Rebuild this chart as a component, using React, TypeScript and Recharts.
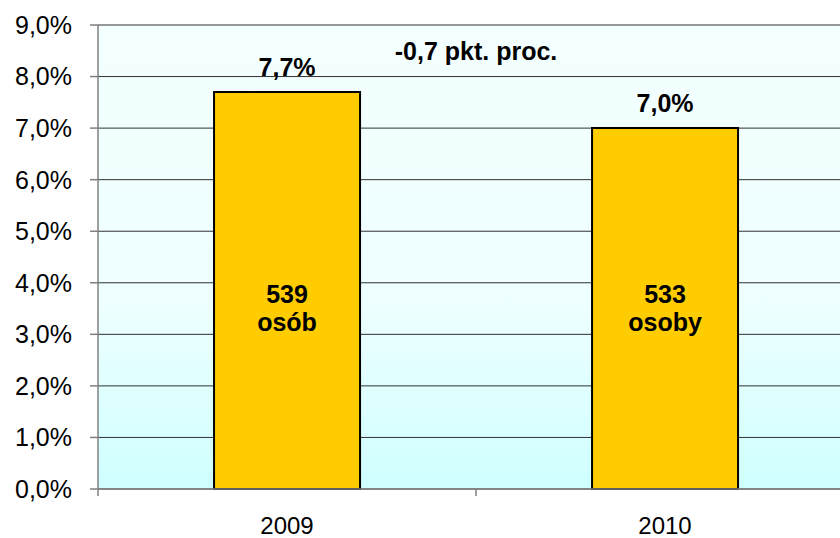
import { BarChart, Bar, XAxis, YAxis, CartesianGrid, LabelList, ReferenceLine } from 'recharts';

const YEARS = ['2009', '2010'];
const RATE = [7.7, 7.0];
const PEOPLE = [539, 533];
const PEOPLE_WORD = ['osób', 'osoby'];
const Y_TICKS = [0, 1, 2, 3, 4, 5, 6, 7, 8, 9];

const FONT = "Arial, 'Liberation Sans', sans-serif";
const X_TICK_SIZE = 7;
const X_TICK_MARGIN = 21;

const data = YEARS.map((year, i) => ({
  year,
  rate: RATE[i],
  people: PEOPLE[i],
  word: PEOPLE_WORD[i],
}));

const pct = (v: number) => v.toFixed(1).replace('.', ',') + '%';
const diff = RATE[1] - RATE[0];
const diffLabel = (diff > 0 ? '+' : '') + diff.toFixed(1).replace('.', ',') + ' pkt. proc.';

// tick label at category centre, tick mark on the category boundary
const XTick = (props: any) => {
  const { x, y, payload } = props;
  const off = payload && typeof payload.offset === 'number' ? payload.offset : 0;
  const axisY = y - X_TICK_SIZE - X_TICK_MARGIN;
  return (
    <g>
      <line x1={x - off} x2={x - off} y1={axisY} y2={axisY + X_TICK_SIZE} stroke="#808080" strokeWidth={1.5} />
      <text x={x} y={y} dy="0.71em" textAnchor="middle" fill="#000" fontSize={24} fontFamily={FONT}>
        {payload.value}
      </text>
    </g>
  );
};

const PeopleLabel = (props: any) => {
  const vb = props.viewBox || props;
  const { x, y, width, height } = vb;
  const { index } = props;
  const cx = x + width / 2;
  const bottom = y + height;
  return (
    <text textAnchor="middle" fill="#000" fontSize={25} fontWeight="bold" fontFamily={FONT}>
      <tspan x={cx} y={bottom - 186}>{PEOPLE[index]}</tspan>
      <tspan x={cx} y={bottom - 158}>{PEOPLE_WORD[index]}</tspan>
    </text>
  );
};

export default function App() {
  return (
    <div style={{ position: 'absolute', left: 0, top: 0, width: 840, height: 538, overflow: 'hidden', background: '#fff' }}>
      <BarChart
        width={870}
        height={538}
        data={data}
        margin={{ top: 25, right: 16, left: 0, bottom: 0 }}
        barCategoryGap="30.7%"
      >
        <defs>
          <linearGradient id="plotBg" x1="0" y1="0" x2="0" y2="1">
            <stop offset="0%" stopColor="#F4FFFF" />
            <stop offset="60%" stopColor="#EEFFFF" />
            <stop offset="100%" stopColor="#CFFFFF" />
          </linearGradient>
        </defs>
        <CartesianGrid vertical={false} stroke="#303030" fill="url(#plotBg)" fillOpacity={1} />
        <XAxis
          dataKey="year"
          height={49}
          stroke="#808080"
          strokeWidth={1.5}
          tickLine={false}
          tickSize={X_TICK_SIZE}
          tickMargin={X_TICK_MARGIN}
          tick={<XTick />}
          interval={0}
        />
        <YAxis
          width={98}
          domain={[0, 9]}
          ticks={Y_TICKS}
          interval={0}
          stroke="#808080"
          strokeWidth={1.5}
          tickSize={8}
          tickMargin={18}
          tickFormatter={pct}
          tick={{ fill: '#000', fontSize: 25, fontFamily: FONT }}
        />
        <ReferenceLine
          y={8.5}
          stroke="none"
          label={{ value: diffLabel, position: 'center', fill: '#000', fontSize: 25, fontWeight: 'bold', fontFamily: FONT }}
        />
        <Bar dataKey="rate" fill="#FFCC00" stroke="#000" strokeWidth={2} isAnimationActive={false}>
          <LabelList
            dataKey="rate"
            position="top"
            offset={16}
            formatter={(v: any) => pct(Number(v))}
            fill="#000"
            fontSize={25}
            fontWeight="bold"
            fontFamily={FONT}
          />
          <LabelList dataKey="people" content={<PeopleLabel />} />
        </Bar>
      </BarChart>
    </div>
  );
}
